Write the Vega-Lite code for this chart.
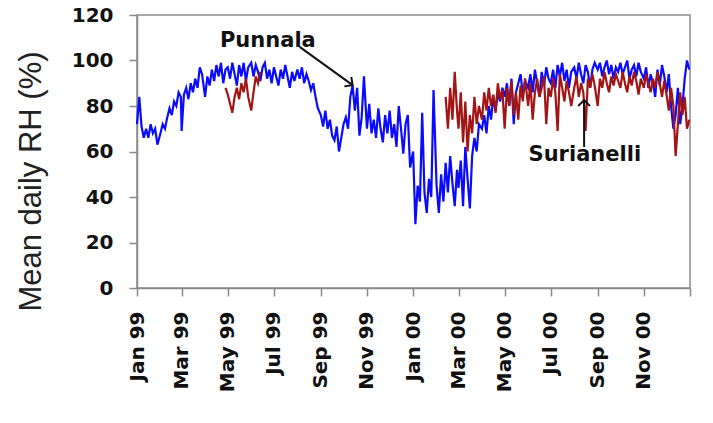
{
  "$schema": "https://vega.github.io/schema/vega-lite/v6.json",
  "width": 553,
  "height": 273,
  "autosize": {"type": "none"},
  "padding": {"left": 137, "top": 15, "right": 23, "bottom": 135},
  "background": "white",
  "config": {
    "view": {"stroke": "#8a8a8a", "strokeWidth": 1.5},
    "axis": {
      "domainColor": "#8a8a8a",
      "domainWidth": 1.5,
      "tickColor": "#8a8a8a",
      "tickWidth": 1.5,
      "tickSize": 8,
      "grid": false,
      "labelFont": "DejaVu Sans",
      "labelFontWeight": "bold",
      "labelColor": "#111",
      "labelFontSize": 20
    }
  },
  "datasets": {
    "punnala": [
      {"d":"1999-01-01","rh":72},{"d":"1999-01-04","rh":84},{"d":"1999-01-07","rh":71},{"d":"1999-01-10","rh":66},{"d":"1999-01-13","rh":70},{"d":"1999-01-16","rh":66},{"d":"1999-01-19","rh":72},{"d":"1999-01-22","rh":68},{"d":"1999-01-25","rh":70},{"d":"1999-01-28","rh":63},
      {"d":"1999-02-01","rh":68},{"d":"1999-02-04","rh":72},{"d":"1999-02-07","rh":70},{"d":"1999-02-10","rh":75},{"d":"1999-02-13","rh":79},{"d":"1999-02-16","rh":76},{"d":"1999-02-19","rh":82},{"d":"1999-02-22","rh":80},{"d":"1999-02-25","rh":86},{"d":"1999-02-28","rh":84},
      {"d":"1999-03-01","rh":69},{"d":"1999-03-04","rh":85},{"d":"1999-03-07","rh":88},{"d":"1999-03-10","rh":83},{"d":"1999-03-13","rh":90},{"d":"1999-03-16","rh":86},{"d":"1999-03-19","rh":92},{"d":"1999-03-22","rh":88},{"d":"1999-03-25","rh":97},{"d":"1999-03-28","rh":94},
      {"d":"1999-04-01","rh":84},{"d":"1999-04-04","rh":93},{"d":"1999-04-07","rh":89},{"d":"1999-04-10","rh":96},{"d":"1999-04-13","rh":91},{"d":"1999-04-16","rh":98},{"d":"1999-04-19","rh":93},{"d":"1999-04-22","rh":99},{"d":"1999-04-25","rh":90},{"d":"1999-04-28","rh":96},
      {"d":"1999-05-01","rh":97},{"d":"1999-05-04","rh":92},{"d":"1999-05-07","rh":99},{"d":"1999-05-10","rh":94},{"d":"1999-05-13","rh":89},{"d":"1999-05-16","rh":98},{"d":"1999-05-19","rh":93},{"d":"1999-05-22","rh":99},{"d":"1999-05-25","rh":91},{"d":"1999-05-28","rh":97},
      {"d":"1999-06-01","rh":99},{"d":"1999-06-04","rh":93},{"d":"1999-06-07","rh":98},{"d":"1999-06-10","rh":95},{"d":"1999-06-13","rh":91},{"d":"1999-06-16","rh":97},{"d":"1999-06-19","rh":99},{"d":"1999-06-22","rh":92},{"d":"1999-06-25","rh":96},{"d":"1999-06-28","rh":90},
      {"d":"1999-07-01","rh":97},{"d":"1999-07-04","rh":93},{"d":"1999-07-07","rh":89},{"d":"1999-07-10","rh":96},{"d":"1999-07-13","rh":92},{"d":"1999-07-16","rh":98},{"d":"1999-07-19","rh":93},{"d":"1999-07-22","rh":88},{"d":"1999-07-25","rh":95},{"d":"1999-07-28","rh":91},
      {"d":"1999-08-01","rh":96},{"d":"1999-08-04","rh":92},{"d":"1999-08-07","rh":97},{"d":"1999-08-10","rh":90},{"d":"1999-08-13","rh":94},{"d":"1999-08-16","rh":91},{"d":"1999-08-19","rh":87},{"d":"1999-08-22","rh":90},{"d":"1999-08-25","rh":84},{"d":"1999-08-28","rh":79},
      {"d":"1999-09-01","rh":76},{"d":"1999-09-04","rh":71},{"d":"1999-09-07","rh":78},{"d":"1999-09-10","rh":70},{"d":"1999-09-13","rh":74},{"d":"1999-09-16","rh":67},{"d":"1999-09-19","rh":65},{"d":"1999-09-22","rh":71},{"d":"1999-09-25","rh":60},{"d":"1999-09-28","rh":66},
      {"d":"1999-10-01","rh":72},{"d":"1999-10-04","rh":75},{"d":"1999-10-07","rh":70},{"d":"1999-10-10","rh":84},{"d":"1999-10-13","rh":89},{"d":"1999-10-16","rh":78},{"d":"1999-10-19","rh":88},{"d":"1999-10-22","rh":67},{"d":"1999-10-25","rh":75},{"d":"1999-10-28","rh":93},
      {"d":"1999-11-01","rh":70},{"d":"1999-11-04","rh":81},{"d":"1999-11-07","rh":68},{"d":"1999-11-10","rh":74},{"d":"1999-11-13","rh":66},{"d":"1999-11-16","rh":79},{"d":"1999-11-19","rh":70},{"d":"1999-11-22","rh":64},{"d":"1999-11-25","rh":76},{"d":"1999-11-28","rh":68},
      {"d":"1999-12-01","rh":78},{"d":"1999-12-04","rh":66},{"d":"1999-12-07","rh":72},{"d":"1999-12-10","rh":62},{"d":"1999-12-13","rh":80},{"d":"1999-12-16","rh":70},{"d":"1999-12-19","rh":59},{"d":"1999-12-22","rh":72},{"d":"1999-12-25","rh":76},{"d":"1999-12-28","rh":53},
      {"d":"2000-01-01","rh":60},{"d":"2000-01-04","rh":28},{"d":"2000-01-07","rh":45},{"d":"2000-01-10","rh":38},{"d":"2000-01-13","rh":77},{"d":"2000-01-16","rh":42},{"d":"2000-01-19","rh":33},{"d":"2000-01-22","rh":48},{"d":"2000-01-25","rh":40},{"d":"2000-01-28","rh":87},
      {"d":"2000-02-01","rh":45},{"d":"2000-02-04","rh":33},{"d":"2000-02-07","rh":50},{"d":"2000-02-10","rh":38},{"d":"2000-02-13","rh":55},{"d":"2000-02-16","rh":42},{"d":"2000-02-19","rh":58},{"d":"2000-02-22","rh":46},{"d":"2000-02-25","rh":36},{"d":"2000-02-28","rh":52},
      {"d":"2000-03-01","rh":44},{"d":"2000-03-04","rh":56},{"d":"2000-03-07","rh":36},{"d":"2000-03-10","rh":62},{"d":"2000-03-13","rh":48},{"d":"2000-03-16","rh":35},{"d":"2000-03-19","rh":58},{"d":"2000-03-22","rh":66},{"d":"2000-03-25","rh":60},{"d":"2000-03-28","rh":72},
      {"d":"2000-04-01","rh":70},{"d":"2000-04-04","rh":76},{"d":"2000-04-07","rh":68},{"d":"2000-04-10","rh":80},{"d":"2000-04-13","rh":74},{"d":"2000-04-16","rh":84},{"d":"2000-04-19","rh":78},{"d":"2000-04-22","rh":86},{"d":"2000-04-25","rh":82},{"d":"2000-04-28","rh":88},
      {"d":"2000-05-01","rh":84},{"d":"2000-05-04","rh":90},{"d":"2000-05-07","rh":80},{"d":"2000-05-10","rh":92},{"d":"2000-05-13","rh":72},{"d":"2000-05-16","rh":86},{"d":"2000-05-19","rh":90},{"d":"2000-05-22","rh":94},{"d":"2000-05-25","rh":85},{"d":"2000-05-28","rh":91},
      {"d":"2000-06-01","rh":88},{"d":"2000-06-04","rh":94},{"d":"2000-06-07","rh":86},{"d":"2000-06-10","rh":96},{"d":"2000-06-13","rh":90},{"d":"2000-06-16","rh":84},{"d":"2000-06-19","rh":95},{"d":"2000-06-22","rh":89},{"d":"2000-06-25","rh":97},{"d":"2000-06-28","rh":92},
      {"d":"2000-07-01","rh":90},{"d":"2000-07-04","rh":96},{"d":"2000-07-07","rh":88},{"d":"2000-07-10","rh":98},{"d":"2000-07-13","rh":93},{"d":"2000-07-16","rh":99},{"d":"2000-07-19","rh":91},{"d":"2000-07-22","rh":96},{"d":"2000-07-25","rh":88},{"d":"2000-07-28","rh":95},
      {"d":"2000-08-01","rh":97},{"d":"2000-08-04","rh":92},{"d":"2000-08-07","rh":99},{"d":"2000-08-10","rh":94},{"d":"2000-08-13","rh":90},{"d":"2000-08-16","rh":98},{"d":"2000-08-19","rh":95},{"d":"2000-08-22","rh":88},{"d":"2000-08-25","rh":96},{"d":"2000-08-28","rh":99},
      {"d":"2000-09-01","rh":96},{"d":"2000-09-04","rh":99},{"d":"2000-09-07","rh":93},{"d":"2000-09-10","rh":97},{"d":"2000-09-13","rh":100},{"d":"2000-09-16","rh":94},{"d":"2000-09-19","rh":98},{"d":"2000-09-22","rh":92},{"d":"2000-09-25","rh":97},{"d":"2000-09-28","rh":95},
      {"d":"2000-10-01","rh":99},{"d":"2000-10-04","rh":94},{"d":"2000-10-07","rh":97},{"d":"2000-10-10","rh":100},{"d":"2000-10-13","rh":92},{"d":"2000-10-16","rh":96},{"d":"2000-10-19","rh":98},{"d":"2000-10-22","rh":93},{"d":"2000-10-25","rh":99},{"d":"2000-10-28","rh":95},
      {"d":"2000-11-01","rh":92},{"d":"2000-11-04","rh":97},{"d":"2000-11-07","rh":88},{"d":"2000-11-10","rh":94},{"d":"2000-11-13","rh":90},{"d":"2000-11-16","rh":84},{"d":"2000-11-19","rh":96},{"d":"2000-11-22","rh":89},{"d":"2000-11-25","rh":98},{"d":"2000-11-28","rh":93},
      {"d":"2000-12-01","rh":86},{"d":"2000-12-04","rh":94},{"d":"2000-12-07","rh":80},{"d":"2000-12-10","rh":70},{"d":"2000-12-13","rh":76},{"d":"2000-12-16","rh":88},{"d":"2000-12-19","rh":72},{"d":"2000-12-22","rh":80},{"d":"2000-12-25","rh":92},{"d":"2000-12-28","rh":100},{"d":"2000-12-31","rh":96}
    ],
    "surianelli": [
      {"d":"1999-04-28","rh":88,"seg":1},{"d":"1999-05-01","rh":85,"seg":1},{"d":"1999-05-04","rh":81,"seg":1},{"d":"1999-05-07","rh":77,"seg":1},{"d":"1999-05-10","rh":84,"seg":1},{"d":"1999-05-13","rh":88,"seg":1},{"d":"1999-05-16","rh":83,"seg":1},{"d":"1999-05-19","rh":90,"seg":1},{"d":"1999-05-22","rh":86,"seg":1},{"d":"1999-05-25","rh":92,"seg":1},{"d":"1999-05-28","rh":84,"seg":1},{"d":"1999-06-01","rh":78,"seg":1},{"d":"1999-06-04","rh":86,"seg":1},{"d":"1999-06-07","rh":93,"seg":1},{"d":"1999-06-10","rh":90,"seg":1},{"d":"1999-06-13","rh":95,"seg":1},
      {"d":"2000-02-13","rh":84,"seg":2},{"d":"2000-02-16","rh":70,"seg":2},{"d":"2000-02-19","rh":88,"seg":2},{"d":"2000-02-22","rh":74,"seg":2},{"d":"2000-02-25","rh":95,"seg":2},{"d":"2000-02-28","rh":78,"seg":2},
      {"d":"2000-03-01","rh":70,"seg":2},{"d":"2000-03-04","rh":86,"seg":2},{"d":"2000-03-07","rh":64,"seg":2},{"d":"2000-03-10","rh":82,"seg":2},{"d":"2000-03-13","rh":60,"seg":2},{"d":"2000-03-16","rh":76,"seg":2},{"d":"2000-03-19","rh":68,"seg":2},{"d":"2000-03-22","rh":84,"seg":2},{"d":"2000-03-25","rh":72,"seg":2},{"d":"2000-03-28","rh":80,"seg":2},
      {"d":"2000-04-01","rh":74,"seg":2},{"d":"2000-04-04","rh":86,"seg":2},{"d":"2000-04-07","rh":78,"seg":2},{"d":"2000-04-10","rh":88,"seg":2},{"d":"2000-04-13","rh":80,"seg":2},{"d":"2000-04-16","rh":85,"seg":2},{"d":"2000-04-19","rh":77,"seg":2},{"d":"2000-04-22","rh":90,"seg":2},{"d":"2000-04-25","rh":83,"seg":2},{"d":"2000-04-28","rh":87,"seg":2},
      {"d":"2000-05-01","rh":70,"seg":2},{"d":"2000-05-04","rh":88,"seg":2},{"d":"2000-05-07","rh":80,"seg":2},{"d":"2000-05-10","rh":91,"seg":2},{"d":"2000-05-13","rh":76,"seg":2},{"d":"2000-05-16","rh":86,"seg":2},{"d":"2000-05-19","rh":74,"seg":2},{"d":"2000-05-22","rh":89,"seg":2},{"d":"2000-05-25","rh":82,"seg":2},{"d":"2000-05-28","rh":92,"seg":2},
      {"d":"2000-06-01","rh":80,"seg":2},{"d":"2000-06-04","rh":90,"seg":2},{"d":"2000-06-07","rh":74,"seg":2},{"d":"2000-06-10","rh":86,"seg":2},{"d":"2000-06-13","rh":92,"seg":2},{"d":"2000-06-16","rh":84,"seg":2},{"d":"2000-06-19","rh":88,"seg":2},{"d":"2000-06-22","rh":93,"seg":2},{"d":"2000-06-25","rh":72,"seg":2},{"d":"2000-06-28","rh":88,"seg":2},
      {"d":"2000-07-01","rh":84,"seg":2},{"d":"2000-07-04","rh":92,"seg":2},{"d":"2000-07-07","rh":86,"seg":2},{"d":"2000-07-10","rh":69,"seg":2},{"d":"2000-07-13","rh":94,"seg":2},{"d":"2000-07-16","rh":88,"seg":2},{"d":"2000-07-19","rh":82,"seg":2},{"d":"2000-07-22","rh":91,"seg":2},{"d":"2000-07-25","rh":86,"seg":2},{"d":"2000-07-28","rh":80,"seg":2},
      {"d":"2000-08-01","rh":88,"seg":2},{"d":"2000-08-04","rh":93,"seg":2},{"d":"2000-08-07","rh":84,"seg":2},{"d":"2000-08-10","rh":90,"seg":2},{"d":"2000-08-13","rh":86,"seg":2},{"d":"2000-08-16","rh":69,"seg":2},{"d":"2000-08-19","rh":92,"seg":2},{"d":"2000-08-22","rh":88,"seg":2},{"d":"2000-08-25","rh":94,"seg":2},{"d":"2000-08-28","rh":89,"seg":2},
      {"d":"2000-09-01","rh":80,"seg":2},{"d":"2000-09-04","rh":92,"seg":2},{"d":"2000-09-07","rh":88,"seg":2},{"d":"2000-09-10","rh":95,"seg":2},{"d":"2000-09-13","rh":90,"seg":2},{"d":"2000-09-16","rh":86,"seg":2},{"d":"2000-09-19","rh":93,"seg":2},{"d":"2000-09-22","rh":89,"seg":2},{"d":"2000-09-25","rh":94,"seg":2},{"d":"2000-09-28","rh":91,"seg":2},
      {"d":"2000-10-01","rh":88,"seg":2},{"d":"2000-10-04","rh":95,"seg":2},{"d":"2000-10-07","rh":90,"seg":2},{"d":"2000-10-10","rh":86,"seg":2},{"d":"2000-10-13","rh":93,"seg":2},{"d":"2000-10-16","rh":89,"seg":2},{"d":"2000-10-19","rh":95,"seg":2},{"d":"2000-10-22","rh":91,"seg":2},{"d":"2000-10-25","rh":85,"seg":2},{"d":"2000-10-28","rh":92,"seg":2},
      {"d":"2000-11-01","rh":88,"seg":2},{"d":"2000-11-04","rh":94,"seg":2},{"d":"2000-11-07","rh":90,"seg":2},{"d":"2000-11-10","rh":86,"seg":2},{"d":"2000-11-13","rh":92,"seg":2},{"d":"2000-11-16","rh":88,"seg":2},{"d":"2000-11-19","rh":95,"seg":2},{"d":"2000-11-22","rh":90,"seg":2},{"d":"2000-11-25","rh":84,"seg":2},{"d":"2000-11-28","rh":91,"seg":2},
      {"d":"2000-12-01","rh":85,"seg":2},{"d":"2000-12-04","rh":78,"seg":2},{"d":"2000-12-07","rh":88,"seg":2},{"d":"2000-12-10","rh":80,"seg":2},{"d":"2000-12-13","rh":58,"seg":2},{"d":"2000-12-16","rh":72,"seg":2},{"d":"2000-12-19","rh":86,"seg":2},{"d":"2000-12-22","rh":76,"seg":2},{"d":"2000-12-25","rh":84,"seg":2},{"d":"2000-12-28","rh":70,"seg":2},{"d":"2000-12-31","rh":74,"seg":2}
    ],
    "arrows": [
      {"site":"Punnala","d":"1999-08-04","rh":106,"d2":"1999-10-13","rh2":89.2},
      {"site":"Surianelli","d":"2000-08-14","rh":62,"d2":"2000-08-14","rh2":82.6}
    ],
    "labels": [
      {"site":"Punnala","d":"1999-06-23","rh":108.6},
      {"site":"Surianelli","d":"2000-08-15","rh":58.5}
    ]
  },
  "encoding": {
    "x": {
      "field": "d",
      "type": "temporal",
      "scale": {
        "type": "utc",
        "domain": [
          {"year": 1999, "month": 1, "date": 1, "utc": true},
          {"year": 2001, "month": 1, "date": 1, "utc": true}
        ]
      },
      "axis": {
        "title": null,
        "format": "%b %y",
        "labelAngle": 270,
        "labelPadding": 15,
        "labelFontSize": 20,
        "labelExpr": "utcyear(datum.value) > 2000 ? '' : datum.label",
        "values": [
          {"year": 1999, "month": 1, "date": 1, "utc": true},
          {"year": 1999, "month": 3, "date": 1, "utc": true},
          {"year": 1999, "month": 5, "date": 1, "utc": true},
          {"year": 1999, "month": 7, "date": 1, "utc": true},
          {"year": 1999, "month": 9, "date": 1, "utc": true},
          {"year": 1999, "month": 11, "date": 1, "utc": true},
          {"year": 2000, "month": 1, "date": 1, "utc": true},
          {"year": 2000, "month": 3, "date": 1, "utc": true},
          {"year": 2000, "month": 5, "date": 1, "utc": true},
          {"year": 2000, "month": 7, "date": 1, "utc": true},
          {"year": 2000, "month": 9, "date": 1, "utc": true},
          {"year": 2000, "month": 11, "date": 1, "utc": true},
          {"year": 2001, "month": 1, "date": 1, "utc": true}
        ]
      }
    },
    "y": {
      "field": "rh",
      "type": "quantitative",
      "scale": {"domain": [0, 120], "nice": false},
      "axis": {
        "title": "Mean daily RH (%)",
        "titleFont": "Liberation Sans",
        "titleFontSize": 31,
        "titleFontWeight": "normal",
        "titleColor": "#222",
        "titleX": -97,
        "titleY": 166,
        "titleAngle": 270,
        "titleAlign": "center",
        "titleBaseline": "alphabetic",
        "values": [0, 20, 40, 60, 80, 100, 120],
        "labelPadding": 16
      }
    }
  },
  "layer": [
    {
      "data": {"name": "punnala"},
      "mark": {"type": "line", "color": "#0a0aff", "strokeWidth": 2.2}
    },
    {
      "data": {"name": "surianelli"},
      "mark": {"type": "line", "color": "#a31515", "strokeWidth": 2.2},
      "encoding": {"detail": {"field": "seg", "type": "nominal"}}
    },
    {
      "data": {"name": "arrows"},
      "mark": {"type": "rule", "color": "#111", "strokeWidth": 2},
      "encoding": {
        "x2": {"field": "d2"},
        "y2": {"field": "rh2"}
      }
    },
    {
      "data": {"name": "arrows"},
      "transform": [{"filter": "datum.site === 'Punnala'"}],
      "mark": {"type": "point", "shape": "M -1 1 L 0 0 L 1 1", "filled": false, "stroke": "#111", "strokeWidth": 2, "size": 140, "angle": 126, "opacity": 1},
      "encoding": {
        "x": {"field": "d2", "type": "temporal"},
        "y": {"field": "rh2", "type": "quantitative"}
      }
    },
    {
      "data": {"name": "arrows"},
      "transform": [{"filter": "datum.site === 'Surianelli'"}],
      "mark": {"type": "point", "shape": "M -1 1 L 0 0 L 1 1", "filled": false, "stroke": "#111", "strokeWidth": 2, "size": 140, "angle": 0, "opacity": 1},
      "encoding": {
        "x": {"field": "d2", "type": "temporal"},
        "y": {"field": "rh2", "type": "quantitative"}
      }
    },
    {
      "data": {"name": "labels"},
      "mark": {"type": "text", "font": "DejaVu Sans", "fontWeight": "bold", "fontSize": 21, "color": "#111", "align": "center", "baseline": "middle"},
      "encoding": {"text": {"field": "site"}}
    }
  ]
}
